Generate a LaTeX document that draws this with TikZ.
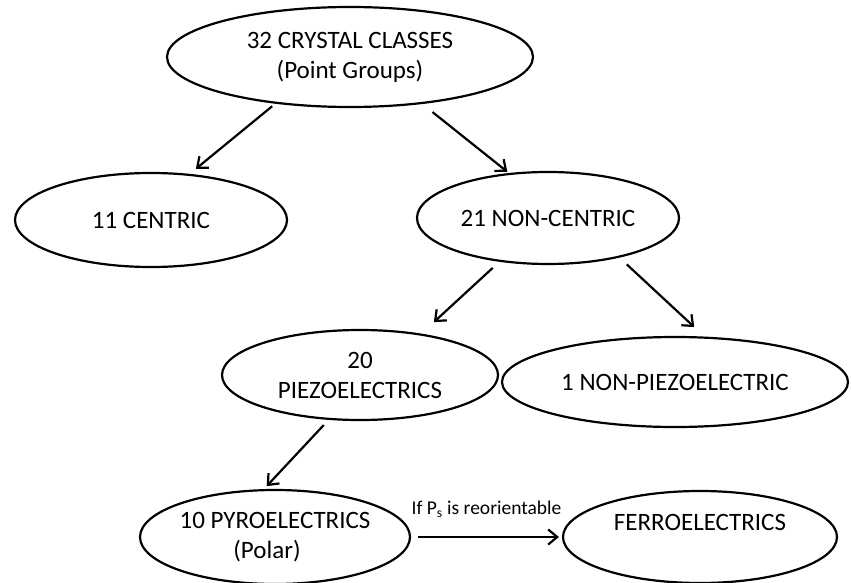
\documentclass[tikz,border=0pt]{standalone}
\usepackage{fontspec}
\setmainfont{Carlito}
\usetikzlibrary{shapes.geometric,arrows.meta}
\tikzset{
    cls/.style={draw, ellipse, line width=2.2pt, inner sep=0pt, align=center,
        font=\fontsize{25}{30}\selectfont},
    link/.style={line width=2.2pt, -{Straight Barb[length=9pt,width=15pt]}},
    cond/.style={inner sep=0pt, font=\fontsize{19.5}{22}\selectfont}
}
\begin{document}
\begin{tikzpicture}[x=1pt,y=-1pt]
                \useasboundingbox (0,0) rectangle (851,583);
                \node[cls, minimum width=366pt, minimum height=100pt] (pg) at (350,57) {32 CRYSTAL CLASSES\\(Point Groups)};
                \node[cls, minimum width=272pt, minimum height=94pt] (cen) at (151,220) {11 CENTRIC};
                \node[cls, minimum width=262pt, minimum height=92pt] (ncen) at (548,218) {21 NON-CENTRIC};
                \node[cls, minimum width=276pt, minimum height=90pt] (piezo) at (360,375) {20\\PIEZOELECTRICS};
                \node[cls, minimum width=346pt, minimum height=90pt] (npiezo) at (675,382) {1 NON-PIEZOELECTRIC};
                \node[cls, minimum width=270pt, minimum height=94pt] (pyro) at (275,537) {10 PYROELECTRICS\\(Polar)\hspace*{16pt}};
                \node[cls, minimum width=274pt, minimum height=92pt] (ferro) at (700,537) {FERROELECTRICS\\~};
                \draw[link, shorten <=4pt, shorten >=8pt] (pg.212) -- (cen.50);
                \draw[link, shorten <=13pt, shorten >=2pt] (pg.327) -- (ncen.131);
                \draw[link, shorten <=9pt, shorten >=17pt] (ncen.222) -- (piezo.34);
                \draw[link, shorten <=10pt, shorten >=14pt] (ncen.331) -- (npiezo.57);
                \draw[link, shorten <=7pt, shorten >=4pt] (piezo.235) -- (pyro.103);
                \draw[link, shorten <=7pt, shorten >=3pt] (pyro.east) -- (ferro.west)
                    node[midway, above=18pt, cond] {If P\textsubscript{s} is reorientable};
\end{tikzpicture}
\end{document}
